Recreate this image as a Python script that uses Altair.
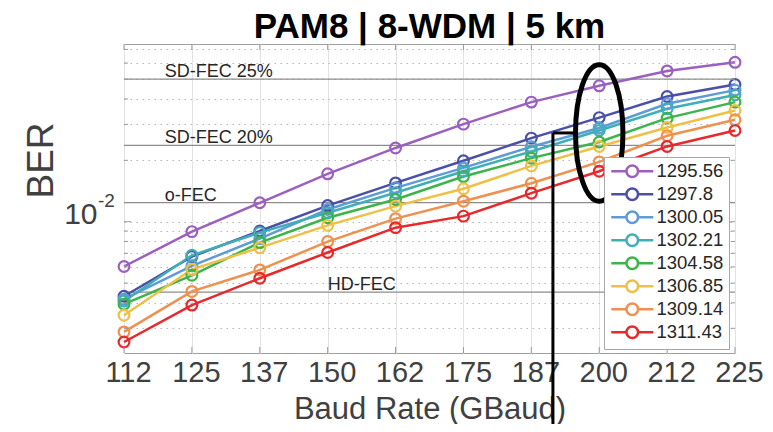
import altair as alt
import pandas as pd

# ---------------- data ----------------
baud_labels = ["112", "125", "137", "150", "162", "175", "187", "200", "212", "225"]
wavelengths = ["1295.56", "1297.8", "1300.05", "1302.21", "1304.58", "1306.85", "1309.14", "1311.43"]

ber_1295_56 = [6.03e-3, 8.94e-3, 1.238e-2, 1.717e-2, 2.30e-2, 3.01e-2, 3.86e-2, 4.64e-2, 5.49e-2, 6.05e-2]
ber_1297_8 = [4.31e-3, 6.74e-3, 9.00e-3, 1.20e-2, 1.55e-2, 1.99e-2, 2.57e-2, 3.24e-2, 4.11e-2, 4.71e-2]
ber_1300_05 = [4.17e-3, 6.07e-3, 8.26e-3, 1.148e-2, 1.466e-2, 1.836e-2, 2.33e-2, 2.88e-2, 3.79e-2, 4.42e-2]
ber_1302_21 = [4.08e-3, 6.84e-3, 8.84e-3, 1.107e-2, 1.386e-2, 1.767e-2, 2.21e-2, 2.80e-2, 3.58e-2, 4.18e-2]
ber_1304_58 = [3.94e-3, 5.46e-3, 7.90e-3, 1.046e-2, 1.285e-2, 1.665e-2, 2.05e-2, 2.46e-2, 3.22e-2, 3.86e-2]
ber_1306_85 = [3.48e-3, 5.84e-3, 7.46e-3, 9.59e-3, 1.192e-2, 1.451e-2, 1.878e-2, 2.34e-2, 2.90e-2, 3.51e-2]
ber_1309_14 = [2.88e-3, 4.55e-3, 5.80e-3, 7.99e-3, 1.035e-2, 1.261e-2, 1.544e-2, 1.965e-2, 2.64e-2, 3.16e-2]
ber_1311_43 = [2.57e-3, 3.90e-3, 5.28e-3, 7.06e-3, 9.35e-3, 1.065e-2, 1.380e-2, 1.767e-2, 2.34e-2, 2.80e-2]
series_values = [ber_1295_56, ber_1297_8, ber_1300_05, ber_1302_21,
                 ber_1304_58, ber_1306_85, ber_1309_14, ber_1311_43]
series_colors = ["#9b5fc0", "#4c4fa8", "#5e9bd8", "#3eafb4", "#3db44a", "#efc045", "#ef904f", "#e8282b"]

thr_names = ["SD-FEC 25%", "SD-FEC 20%", "o-FEC", "HD-FEC"]
thr_ber = [5.0e-2, 2.37e-2, 1.24e-2, 4.51e-3]
thr_label_x = [0.6, 0.6, 0.6, 3.0]

y_grid_values = [0.003, 0.004, 0.005, 0.006, 0.007, 0.008, 0.009, 0.01,
                 0.02, 0.03, 0.04, 0.05, 0.06, 0.07]
y_major_values = [0.01]

# callout annotation (ellipse round the 200 GBaud column + connector)
ellipse_x = [7.0]
ellipse_ber = [0.02725]
connector_x = [6.318]
connector_x2 = [6.65]

# ---------------- tables ----------------
rows = []
for wl, vals in zip(wavelengths, series_values):
    for i, v in enumerate(vals):
        rows.append({"idx": i, "baud": baud_labels[i], "wl": wl, "ber": v})
df = pd.DataFrame(rows)
thr_df = pd.DataFrame({"name": thr_names, "ber": thr_ber, "idx": thr_label_x})
minor_df = pd.DataFrame({"ber": [v for v in y_grid_values if v not in y_major_values]})
major_df = pd.DataFrame({"ber": y_major_values})
xt_df = pd.DataFrame({"idx": list(range(len(baud_labels)))})
ell_df = pd.DataFrame({"idx": ellipse_x, "ber": ellipse_ber})
con_df = pd.DataFrame({"idx": connector_x, "idx2": connector_x2, "ber": ellipse_ber})
sup_df = pd.DataFrame({"ber": y_major_values, "t": ["-2"]})

W, H = 611, 309
REG = "Liberation Sans, Arial, Helvetica, sans-serif"
AX = "#404040"

xs = alt.Scale(domain=[0, 9], nice=False, zero=False)
ys = alt.Scale(type="log", domain=[0.00227, 0.0744], nice=False)
cs = alt.Scale(domain=wavelengths, range=series_colors)

label_arr = "[" + ",".join("'%s'" % b for b in baud_labels) + "]"

x_axis = alt.Axis(values=list(range(10)), labelExpr=label_arr + "[datum.value]",
                  grid=True, gridColor="#e2e2e2", gridWidth=1, ticks=False, domain=False,
                  labelFont=REG, labelFontSize=29, labelColor=AX, labelPadding=5,
                  labelOffset=4, labelFlush=False, labelOverlap=False, labelBound=False,
                  title="Baud Rate (GBaud)", titleFont=REG, titleFontSize=31,
                  titleFontWeight="normal", titleColor=AX, titlePadding=7)
y_axis = alt.Axis(values=y_grid_values, labelExpr="datum.value == 0.01 ? '10' : ''",
                  grid=True, gridDash=[1.5, 4.5], gridColor="#b8b8b8", gridWidth=1,
                  ticks=False, domain=False, labelFont=REG, labelFontSize=30,
                  labelColor=AX, labelPadding=27, labelOffset=-7, labelOverlap=False,
                  labelBound=False, labelFlush=False,
                  title="BER", titleFont=REG, titleFontSize=37, titleFontWeight="normal",
                  titleColor=AX, titleX=-72, titleY=116, titleBaseline="alphabetic")

X = alt.X("idx:Q", scale=xs)
Y = alt.Y("ber:Q", scale=ys)

# legend glyph: short line with an open circle (units scaled by sqrt(size)/2 = 5 px)
legend_symbol = ("M-4.2,0L-1.16,0M1.16,0L4.2,0"
                 "M1.16,0A1.16,1.16 0 1,1 -1.16,0A1.16,1.16 0 1,1 1.16,0")

thr_rules = alt.Chart(thr_df).mark_rule(color="#8c8c8c", strokeWidth=1.2).encode(y=Y)
thr_text = alt.Chart(thr_df).mark_text(align="left", baseline="alphabetic", dy=-2,
                                        font=REG, fontSize=18, color="#262626").encode(
    x=X, y=Y, text="name:N")

lines = alt.Chart(df).mark_line(strokeWidth=2.5).encode(
    x=alt.X("idx:Q", scale=xs, axis=x_axis),
    y=alt.Y("ber:Q", scale=ys, axis=y_axis),
    color=alt.Color("wl:N", scale=cs, sort=wavelengths,
                    legend=alt.Legend(orient="none", legendX=480, legendY=113, title=None,
                                      symbolType=legend_symbol, symbolSize=100,
                                      symbolStrokeWidth=2.5, symbolOffset=14,
                                      labelFont=REG, labelFontSize=18.5,
                                      labelColor="#262626", fillColor="white",
                                      strokeColor="#a8a8a8", padding=5, rowPadding=0,
                                      labelOffset=15)),
    detail="wl:N")
points = alt.Chart(df).mark_point(shape="circle", filled=False, size=115, strokeWidth=2.2,
                                  opacity=1).encode(
    x=X, y=Y, color=alt.Color("wl:N", scale=cs, legend=None))

tick_c = "#9a9a9a"
def ytick(data, x0, x1):
    return alt.Chart(data).mark_rule(color=tick_c, strokeWidth=1).encode(
        y=Y, x=alt.value(x0), x2=alt.value(x1))

left_minor = ytick(minor_df, 0, 4)
left_major = ytick(major_df, 0, 7)
right_minor = ytick(minor_df, W, W - 4)
right_major = ytick(major_df, W, W - 7)
bottom_ticks = alt.Chart(xt_df).mark_rule(color=tick_c, strokeWidth=1).encode(
    x=X, y=alt.value(H), y2=alt.value(H - 6))
top_ticks = alt.Chart(xt_df).mark_rule(color=tick_c, strokeWidth=1).encode(
    x=X, y=alt.value(0), y2=alt.value(6))

ellipse_path = "M0,-1A0.347,1 0 1,1 0,1A0.347,1 0 1,1 0,-1Z"
ellipse = alt.Chart(ell_df).mark_point(shape=ellipse_path, filled=False, size=18660,
                                       strokeWidth=5, color="black", opacity=1).encode(x=X, y=Y)
con_h = alt.Chart(con_df).mark_rule(color="black", strokeWidth=3).encode(x=X, x2="idx2:Q", y=Y)
con_v = alt.Chart(con_df).mark_rule(color="black", strokeWidth=3, clip=False).encode(
    x=X, y=Y, y2=alt.value(H + 80))
sup = alt.Chart(sup_df).mark_text(align="left", baseline="middle", font=REG, fontSize=19,
                                  color=AX, dy=-21, clip=False).encode(
    y=Y, x=alt.value(-26), text="t:N")

chart = alt.layer(
    thr_rules, thr_text, lines, points, left_minor, left_major, right_minor, right_major,
    bottom_ticks, top_ticks, con_h, con_v, ellipse, sup
).properties(
    width=W, height=H,
    title=alt.TitleParams("PAM8 | 8-WDM | 5 km", font=REG, fontWeight="bold", fontSize=35,
                          color="black", anchor="middle", offset=2, dy=20, frame="group"),
    autosize=alt.AutoSizeParams(type="none"),
    padding={"left": 116, "top": 36, "right": 30, "bottom": 71},
).configure_view(stroke="#a0a0a0", strokeWidth=1)

chart.save("out.html", embed_options={"renderer": "svg", "actions": False})
